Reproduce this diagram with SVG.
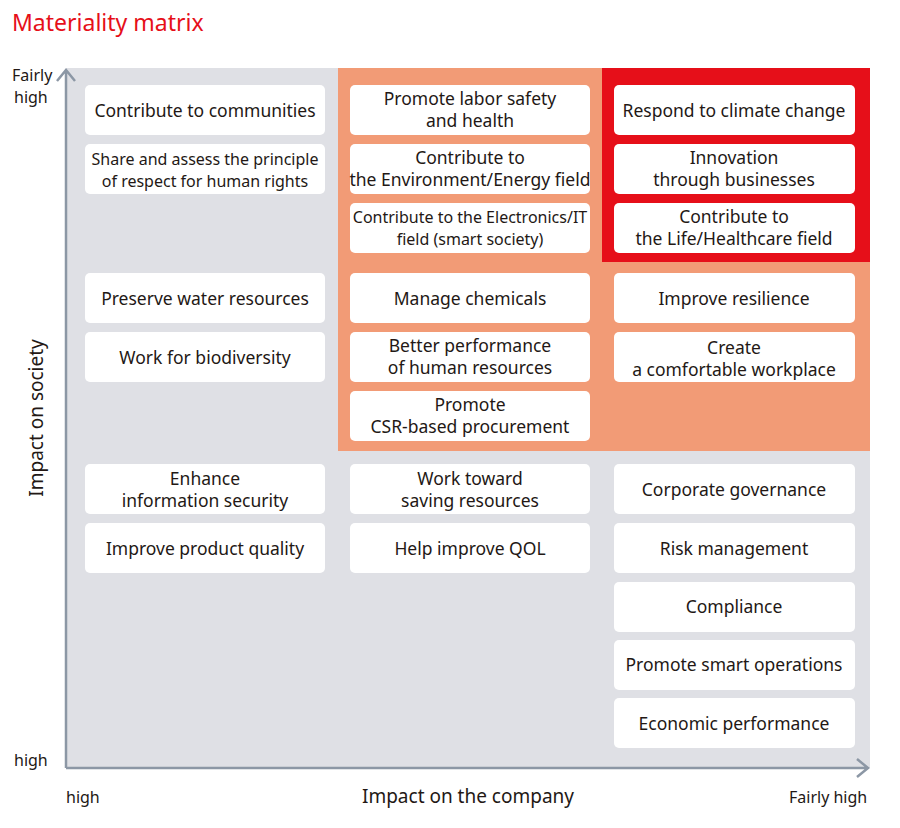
<svg xmlns="http://www.w3.org/2000/svg" width="900" height="828" viewBox="0 0 900 828">
<style>
text{font-family:"Noto Sans","Liberation Sans",sans-serif;fill:#231815}
.b rect{fill:#fff}
.b text{font-size:17.5px;text-anchor:middle}
.c text{font-size:16px}
.ax{stroke:#8c97a5;stroke-width:2.5;fill:none}
.lab{font-size:16px}
</style>
<text x="12" y="31" style="font-size:23px;fill:#e60f19">Materiality matrix</text>
<rect x="66" y="68" width="804" height="700" fill="#dfe0e5"/>
<rect x="338" y="68" width="532" height="383" fill="#f29b76"/>
<rect x="602" y="68" width="268" height="194" fill="#e60f19"/>
<g id="connectors">
<path class="ax" d="M66 768V72M57 81L66 70L75 81"/>
<path class="ax" d="M66 768H866M857 759L868 768L857 777"/>
</g>
<text class="lab" x="12" y="81">Fairly</text>
<text class="lab" x="14" y="103">high</text>
<text class="lab" x="14" y="766">high</text>
<text class="lab" x="66" y="803">high</text>
<text class="lab" x="789" y="803">Fairly high</text>
<text x="468" y="803" style="font-size:19px;text-anchor:middle">Impact on the company</text>
<text transform="translate(43 418) rotate(-90)" style="font-size:19px;text-anchor:middle">Impact on society</text>
<g class="b">
<g id="n1"><rect x="85" y="85" width="240" height="50" rx="5"/><text x="205" y="117">Contribute to communities</text></g>
<g id="n2" class="c"><rect x="85" y="144" width="240" height="50" rx="5"/><text x="205" y="165">Share and assess the principle</text><text x="205" y="187">of respect for human rights</text></g>
<g id="n3"><rect x="85" y="273" width="240" height="50" rx="5"/><text x="205" y="305">Preserve water resources</text></g>
<g id="n4"><rect x="85" y="332" width="240" height="50" rx="5"/><text x="205" y="364">Work for biodiversity</text></g>
<g id="n5"><rect x="85" y="464" width="240" height="50" rx="5"/><text x="205" y="485">Enhance</text><text x="205" y="507">information security</text></g>
<g id="n6"><rect x="85" y="523" width="240" height="50" rx="5"/><text x="205" y="555">Improve product quality</text></g>
<g id="n7"><rect x="350" y="85" width="240" height="50" rx="5"/><text x="470" y="105">Promote labor safety</text><text x="470" y="127">and health</text></g>
<g id="n8"><rect x="350" y="144" width="240" height="50" rx="5"/><text x="470" y="164">Contribute to</text><text x="470" y="186">the Environment/Energy field</text></g>
<g id="n9" class="c"><rect x="350" y="203" width="240" height="50" rx="5"/><text x="470" y="223">Contribute to the Electronics/IT</text><text x="470" y="245">field (smart society)</text></g>
<g id="n10"><rect x="350" y="273" width="240" height="50" rx="5"/><text x="470" y="305">Manage chemicals</text></g>
<g id="n11"><rect x="350" y="332" width="240" height="50" rx="5"/><text x="470" y="352">Better performance</text><text x="470" y="374">of human resources</text></g>
<g id="n12"><rect x="350" y="391" width="240" height="50" rx="5"/><text x="470" y="411">Promote</text><text x="470" y="433">CSR-based procurement</text></g>
<g id="n13"><rect x="350" y="464" width="240" height="50" rx="5"/><text x="470" y="485">Work toward</text><text x="470" y="507">saving resources</text></g>
<g id="n14"><rect x="350" y="523" width="240" height="50" rx="5"/><text x="470" y="555">Help improve QOL</text></g>
<g id="n15"><rect x="614" y="85" width="241" height="50" rx="5"/><text x="734" y="117">Respond to climate change</text></g>
<g id="n16"><rect x="614" y="144" width="241" height="50" rx="5"/><text x="734" y="164">Innovation</text><text x="734" y="186">through businesses</text></g>
<g id="n17"><rect x="614" y="203" width="241" height="50" rx="5"/><text x="734" y="223">Contribute to</text><text x="734" y="245">the Life/Healthcare field</text></g>
<g id="n18"><rect x="614" y="273" width="241" height="50" rx="5"/><text x="734" y="305">Improve resilience</text></g>
<g id="n19"><rect x="614" y="332" width="241" height="50" rx="5"/><text x="734" y="354">Create</text><text x="734" y="376">a comfortable workplace</text></g>
<g id="n20"><rect x="614" y="464" width="241" height="50" rx="5"/><text x="734" y="496">Corporate governance</text></g>
<g id="n21"><rect x="614" y="523" width="241" height="50" rx="5"/><text x="734" y="555">Risk management</text></g>
<g id="n22"><rect x="614" y="582" width="241" height="50" rx="5"/><text x="734" y="613">Compliance</text></g>
<g id="n23"><rect x="614" y="640" width="241" height="50" rx="5"/><text x="734" y="671">Promote smart operations</text></g>
<g id="n24"><rect x="614" y="698" width="241" height="50" rx="5"/><text x="734" y="730">Economic performance</text></g>
</g>
</svg>
